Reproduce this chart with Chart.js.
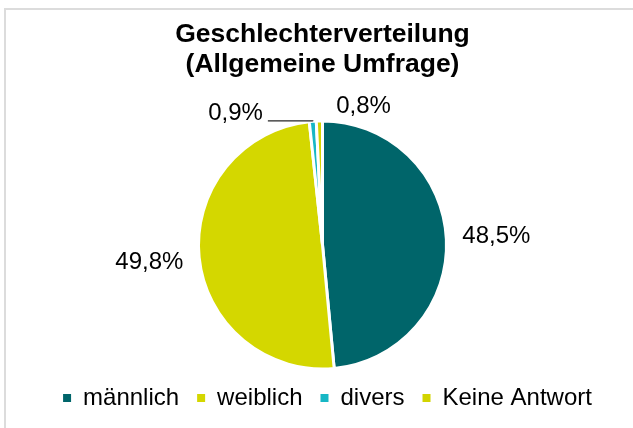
<!DOCTYPE html>
<html>
<head>
<meta charset="utf-8">
<script src="https://cdn.jsdelivr.net/npm/chart.js@4.4.1/dist/chart.umd.min.js"></script>
<style>
    html, body { margin: 0; padding: 0; background: #fff; }
    #wrap { position: relative; width: 633px; height: 428px; overflow: hidden; }
    #frame {
        position: absolute; left: 4px; top: 8px; width: 700px; height: 500px;
        border: 2px solid #dcdcdc; box-sizing: border-box; pointer-events: none;
    }
</style>
</head>
<body>
<div id="wrap">
    <canvas id="pieChart" width="633" height="428"></canvas>
    <div id="frame"></div>
</div>
<script>
// Data
const categories = ['männlich', 'weiblich', 'divers', 'Keine Antwort'];
const shares = [48.5, 49.8, 0.9, 0.8];
const sliceColors = ['#00656a', '#d4d700', '#17b7c5', '#d2d400'];
const titleLines = ['Geschlechterverteilung', '(Allgemeine Umfrage)'];

const FONT = '"Liberation Sans", Arial, sans-serif';

// format 48.5 -> "48,5%"
function fmtPercent(v) {
    return v.toFixed(1).replace('.', ',') + '%';
}

// Draws the percentage labels next to each slice
const sliceLabels = {
    id: 'sliceLabels',
    afterDatasetsDraw(chart, args, opts) {
        const ctx = chart.ctx;
        const meta = chart.getDatasetMeta(0);
        ctx.save();
        ctx.font = opts.fontSize + 'px ' + FONT;
        ctx.fillStyle = '#000';
        ctx.textAlign = 'center';
        ctx.textBaseline = 'middle';

        meta.data.forEach((arc, i) => {
            const p = arc.getProps(['x', 'y', 'startAngle', 'endAngle', 'outerRadius'], true);
            const mid = (p.startAngle + p.endAngle) / 2;
            const text = fmtPercent(chart.data.datasets[0].data[i]);
            const manual = opts.manual[i];
            let lx, ly;
            if (manual) {
                lx = p.x + manual.dx;
                ly = p.y + manual.dy;
            } else {
                const d = p.outerRadius + opts.offset;
                lx = p.x + Math.cos(mid) * d;
                ly = p.y + Math.sin(mid) * d;
            }
            ctx.fillText(text, lx, ly);

            if (manual && manual.leader) {
                // leader line from label to the slice edge
                const ex = p.x + Math.cos(mid) * p.outerRadius;
                const ey = p.y + Math.sin(mid) * p.outerRadius;
                const w = ctx.measureText(text).width;
                const sy = ly + 8;
                ctx.strokeStyle = '#262626';
                ctx.lineWidth = 1.2;
                ctx.beginPath();
                ctx.moveTo(lx + w / 2 + 5, sy);
                ctx.lineTo(ex, sy);
                ctx.lineTo(ex, ey);
                ctx.stroke();
            }
        });
        ctx.restore();
    }
};

// nudge the legend a little to the right, like in the original
const legendShift = {
    id: 'legendShift',
    afterLayout(chart, args, opts) {
        if (chart.legend) {
            chart.legend.left += opts.dx;
            chart.legend.right += opts.dx;
        }
    }
};

const ctx = document.getElementById('pieChart').getContext('2d');
const chart = new Chart(ctx, {
    type: 'pie',
    data: {
        labels: categories,
        datasets: [{
            data: shares,
            backgroundColor: sliceColors,
            borderColor: '#ffffff',
            borderWidth: 3,
            radius: 124
        }]
    },
    options: {
        responsive: false,
        animation: false,
        layout: {
            padding: { top: 10, bottom: 8, left: 12, right: 0 }
        },
        plugins: {
            title: {
                display: true,
                text: titleLines,
                color: '#000',
                font: { family: FONT, size: 26.5, weight: 'bold', lineHeight: 1.13 },
                padding: { top: 10, bottom: 42 }
            },
            legend: {
                position: 'bottom',
                labels: {
                    color: '#000',
                    font: { family: FONT, size: 24 },
                    boxWidth: 8,
                    boxHeight: 8,
                    padding: 18,
                    generateLabels(chart) {
                        const items = Chart.overrides.pie.plugins.legend.labels.generateLabels(chart);
                        items.forEach(it => {
                            it.strokeStyle = it.fillStyle;
                            it.lineWidth = 0;
                        });
                        return items;
                    }
                }
            },
            tooltip: { enabled: false },
            legendShift: { dx: 5 },
            sliceLabels: {
                fontSize: 24,
                offset: 50,
                manual: {
                    2: { dx: -87, dy: -132, leader: true },
                    3: { dx: 41, dy: -139 }
                }
            }
        }
    },
    plugins: [sliceLabels, legendShift]
});
</script>
</body>
</html>
